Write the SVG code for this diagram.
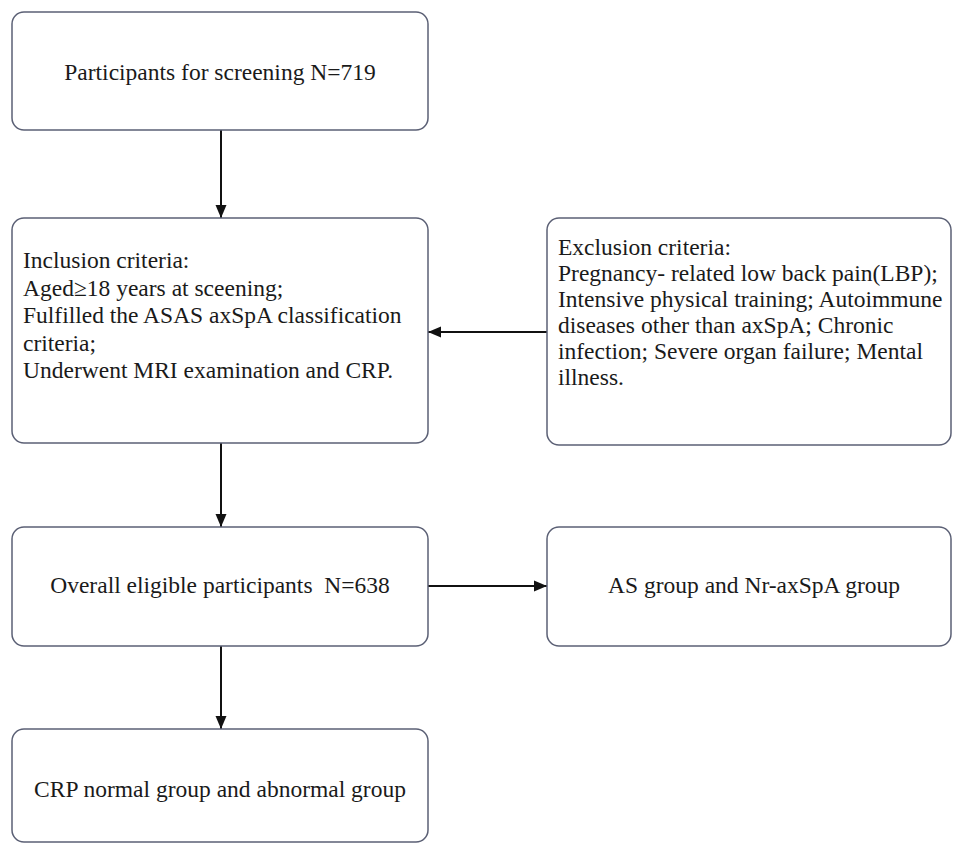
<svg xmlns="http://www.w3.org/2000/svg" width="953" height="844" viewBox="0 0 953 844">
<style>
.box{fill:#fff;stroke:#5b6075;stroke-width:1.5}
.t{font-family:"Liberation Serif","Times New Roman",serif;font-size:23.5px;fill:#1a1a1a}
.c{text-anchor:middle}
.conn{stroke:#111;stroke-width:2;fill:none}
</style>
<defs>
<marker id="ah" markerUnits="userSpaceOnUse" markerWidth="14" markerHeight="14" viewBox="0 0 14 14" refX="13" refY="7" orient="auto">
<path d="M0,1.5 L13,7 L0,12.5 Z" fill="#111"/>
</marker>
</defs>
<rect width="953" height="844" fill="#fff"/>
<g id="connectors">
<line class="conn" x1="221" y1="130" x2="221" y2="218" marker-end="url(#ah)"/>
<line class="conn" x1="547" y1="332" x2="428" y2="332" marker-end="url(#ah)"/>
<line class="conn" x1="221" y1="443" x2="221" y2="527" marker-end="url(#ah)"/>
<line class="conn" x1="428" y1="586" x2="547" y2="586" marker-end="url(#ah)"/>
<line class="conn" x1="221" y1="646" x2="221" y2="729" marker-end="url(#ah)"/>
</g>
<g id="screening">
<rect class="box" x="12" y="12" width="416" height="118" rx="12"/>
<text class="t c" x="220" y="80">Participants for screening N=719</text>
</g>
<g id="inclusion">
<rect class="box" x="12" y="218" width="416" height="225" rx="12"/>
<text class="t" x="23" y="268">Inclusion criteria:</text>
<text class="t" x="23" y="295.5">Aged≥18 years at sceening;</text>
<text class="t" x="23" y="323">Fulfilled the ASAS axSpA classification</text>
<text class="t" x="23" y="350.5">criteria;</text>
<text class="t" x="23" y="378">Underwent MRI examination and CRP.</text>
</g>
<g id="exclusion">
<rect class="box" x="547" y="218" width="404" height="227" rx="12"/>
<text class="t" x="558" y="255">Exclusion criteria:</text>
<text class="t" x="558" y="281">Pregnancy- related low back pain(LBP);</text>
<text class="t" x="558" y="307">Intensive physical training; Autoimmune</text>
<text class="t" x="558" y="333">diseases other than axSpA; Chronic</text>
<text class="t" x="558" y="359">infection; Severe organ failure; Mental</text>
<text class="t" x="558" y="385">illness.</text>
</g>
<g id="eligible">
<rect class="box" x="12" y="527" width="416" height="119" rx="12"/>
<text class="t c" x="220" y="593" xml:space="preserve">Overall eligible participants  N=638</text>
</g>
<g id="subtype">
<rect class="box" x="547" y="527" width="404" height="119" rx="12"/>
<text class="t c" x="754" y="593">AS group and Nr-axSpA group</text>
</g>
<g id="crp">
<rect class="box" x="12" y="729" width="416" height="113" rx="12"/>
<text class="t c" x="220" y="797">CRP normal group and abnormal group</text>
</g>
</svg>
